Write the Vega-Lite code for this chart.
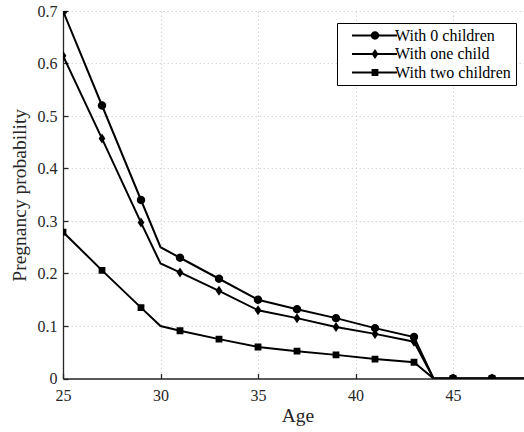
{
  "$schema": "https://vega.github.io/schema/vega-lite/v6.json",
  "autosize": {"type": "none"},
  "width": 461,
  "height": 367.5,
  "padding": {"left": 63, "top": 11, "right": 0, "bottom": 53.5},
  "background": "white",
  "data": {
    "values": [
      {"series": "With 0 children", "age": 25, "p": 0.70},
      {"series": "With 0 children", "age": 27, "p": 0.52},
      {"series": "With 0 children", "age": 29, "p": 0.34},
      {"series": "With 0 children", "age": 30, "p": 0.25},
      {"series": "With 0 children", "age": 31, "p": 0.23},
      {"series": "With 0 children", "age": 33, "p": 0.19},
      {"series": "With 0 children", "age": 35, "p": 0.15},
      {"series": "With 0 children", "age": 37, "p": 0.132},
      {"series": "With 0 children", "age": 39, "p": 0.115},
      {"series": "With 0 children", "age": 41, "p": 0.096},
      {"series": "With 0 children", "age": 43, "p": 0.079},
      {"series": "With 0 children", "age": 44, "p": 0},
      {"series": "With 0 children", "age": 45, "p": 0},
      {"series": "With 0 children", "age": 47, "p": 0},
      {"series": "With 0 children", "age": 49, "p": 0},
      {"series": "With one child", "age": 25, "p": 0.615},
      {"series": "With one child", "age": 27, "p": 0.457},
      {"series": "With one child", "age": 29, "p": 0.297},
      {"series": "With one child", "age": 30, "p": 0.219},
      {"series": "With one child", "age": 31, "p": 0.202},
      {"series": "With one child", "age": 33, "p": 0.167},
      {"series": "With one child", "age": 35, "p": 0.130},
      {"series": "With one child", "age": 37, "p": 0.115},
      {"series": "With one child", "age": 39, "p": 0.098},
      {"series": "With one child", "age": 41, "p": 0.085},
      {"series": "With one child", "age": 43, "p": 0.070},
      {"series": "With one child", "age": 44, "p": 0},
      {"series": "With one child", "age": 45, "p": 0},
      {"series": "With one child", "age": 47, "p": 0},
      {"series": "With one child", "age": 49, "p": 0},
      {"series": "With two children", "age": 25, "p": 0.279},
      {"series": "With two children", "age": 27, "p": 0.206},
      {"series": "With two children", "age": 29, "p": 0.135},
      {"series": "With two children", "age": 30, "p": 0.100},
      {"series": "With two children", "age": 31, "p": 0.091},
      {"series": "With two children", "age": 33, "p": 0.075},
      {"series": "With two children", "age": 35, "p": 0.060},
      {"series": "With two children", "age": 37, "p": 0.052},
      {"series": "With two children", "age": 39, "p": 0.045},
      {"series": "With two children", "age": 41, "p": 0.037},
      {"series": "With two children", "age": 43, "p": 0.031},
      {"series": "With two children", "age": 44, "p": 0},
      {"series": "With two children", "age": 45, "p": 0},
      {"series": "With two children", "age": 47, "p": 0},
      {"series": "With two children", "age": 49, "p": 0}
    ]
  },
  "encoding": {
    "x": {
      "field": "age", "type": "quantitative",
      "scale": {"domain": [25, 48.64], "nice": false, "zero": false},
      "axis": {
        "title": "Age", "values": [25, 30, 35, 40, 45], "format": "d",
        "labelFlush": false, "labelPadding": 26.5, "labelBaseline": "alphabetic",
        "titleX": 234.5, "titleY": 42.5, "titleBaseline": "alphabetic", "titleAlign": "center", "titleAngle": 0
      }
    },
    "y": {
      "field": "p", "type": "quantitative",
      "scale": {"domain": [0, 0.7], "nice": false},
      "axis": {
        "title": "Pregnancy probability", "values": [0, 0.1, 0.2, 0.3, 0.4, 0.5, 0.6, 0.7], "format": ".1~f",
        "labelFlush": false, "labelPadding": 11,
        "titleX": -38, "titleY": 183.75, "titleBaseline": "alphabetic", "titleAlign": "center", "titleAngle": 270
      }
    }
  },
  "layer": [
    {
      "mark": {"type": "line", "color": "black", "strokeWidth": 2, "clip": true},
      "encoding": {"detail": {"field": "series", "type": "nominal"}}
    },
    {
      "transform": [{"filter": "datum.age % 2 == 1"}],
      "mark": {"type": "point", "filled": true, "color": "black", "opacity": 1, "size": 64, "clip": true},
      "encoding": {
        "shape": {
          "field": "series", "type": "nominal",
          "scale": {
            "domain": ["With 0 children", "With one child", "With two children"],
            "range": [
              "M1.05,0A1.05,1.05,0,1,1,-1.05,0A1.05,1.05,0,1,1,1.05,0Z",
              "M0,-1.25L0.85,0L0,1.25L-0.85,0Z",
              "M-0.85,-0.85H0.85V0.85H-0.85Z"
            ]
          },
          "legend": null
        }
      }
    },
    {
      "transform": [{"filter": "false"}],
      "mark": {"type": "point", "filled": true, "color": "black", "opacity": 1},
      "encoding": {
        "shape": {
          "field": "series", "type": "nominal",
          "scale": {
            "domain": ["With 0 children", "With one child", "With two children"],
            "range": [
              "M-5.75,-0.25H5.5V0.25H-5.75Z M1.05,0A1.05,1.05,0,1,1,-1.05,0A1.05,1.05,0,1,1,1.05,0Z",
              "M-5.75,-0.25H5.5V0.25H-5.75Z M0,-1.25L0.85,0L0,1.25L-0.85,0Z",
              "M-5.75,-0.25H5.5V0.25H-5.75Z M-0.85,-0.85H0.85V0.85H-0.85Z"
            ]
          },
          "legend": {
            "title": null, "orient": "none", "legendX": 274, "legendY": 12,
            "strokeColor": "#000000", "fillColor": "white", "padding": 4.5,
            "symbolSize": 64, "symbolOffset": 25.5, "labelOffset": 12,
            "symbolStrokeWidth": 0, "labelFont": "Liberation Serif", "labelFontSize": 16,
            "labelColor": "#000000", "rowPadding": 2.5, "labelLimit": 300
          }
        }
      }
    }
  ],
  "resolve": {"scale": {"shape": "independent"}},
  "config": {
    "view": {"stroke": null},
    "font": "Liberation Serif",
    "text": {"font": "Liberation Serif"},
    "legend": {"labelFont": "Liberation Serif", "titleFont": "Liberation Serif"},
    "axis": {
      "domainColor": "#262626", "domainWidth": 1.3,
      "tickColor": "#262626", "tickWidth": 1.3, "tickSize": -5,
      "labelFont": "Liberation Serif", "labelFontSize": 16, "labelColor": "#262626",
      "titleFont": "Liberation Serif", "titleFontSize": 19.5, "titleFontWeight": "normal", "titleColor": "#262626",
      "grid": true, "gridColor": "#d4d4d4", "gridDash": [1.5, 2.5], "gridWidth": 1
    }
  }
}
